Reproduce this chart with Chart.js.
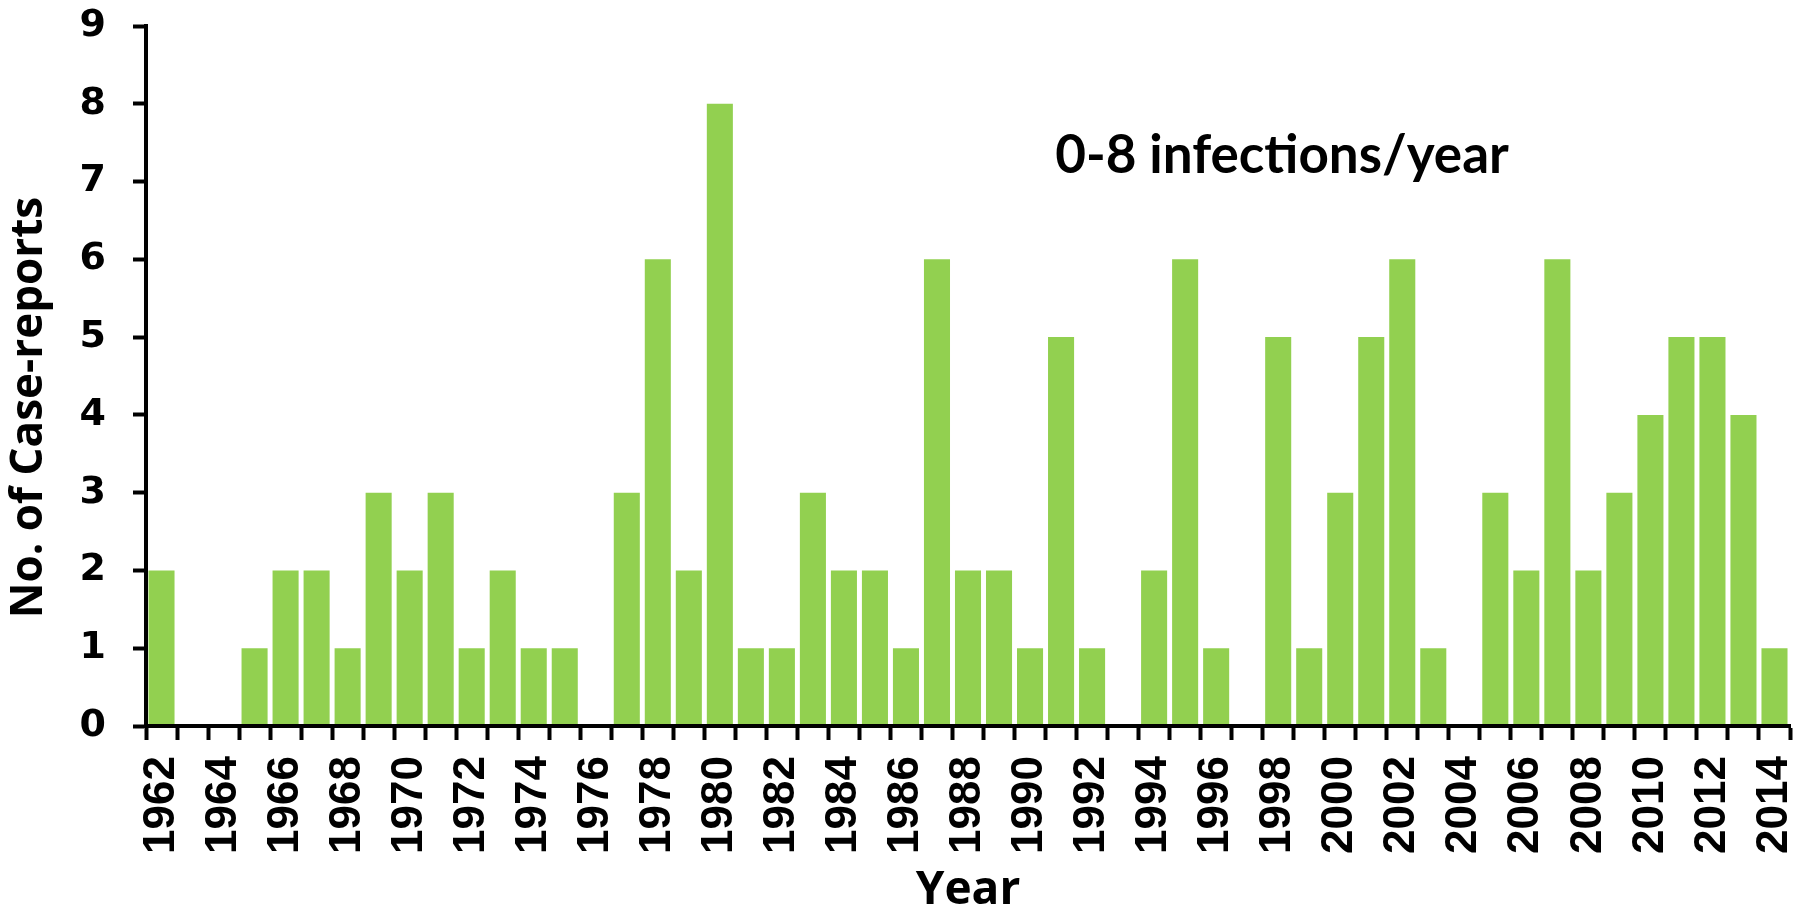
<!DOCTYPE html>
<html>
<head>
<meta charset="utf-8">
<script src="https://cdn.jsdelivr.net/npm/chart.js@4"></script>
<style>
  html, body { margin: 0; padding: 0; background: #ffffff; }
  #wrap { width: 1806px; height: 912px; position: relative; }
</style>
</head>
<body>
<div id="wrap"><canvas id="caseChart"></canvas></div>
<script>
// Years 1962-2014
const years = [
    '1962', '1963', '1964', '1965', '1966', '1967', '1968', '1969', '1970', '1971',
    '1972', '1973', '1974', '1975', '1976', '1977', '1978', '1979', '1980', '1981',
    '1982', '1983', '1984', '1985', '1986', '1987', '1988', '1989', '1990', '1991',
    '1992', '1993', '1994', '1995', '1996', '1997', '1998', '1999', '2000', '2001',
    '2002', '2003', '2004', '2005', '2006', '2007', '2008', '2009', '2010', '2011',
    '2012', '2013', '2014'
];

// No. of case-reports per year
const caseReports = [
    2, 0, 0, 1, 2, 2, 1, 3, 2, 3,
    1, 2, 1, 1, 0, 3, 6, 2, 8, 1,
    1, 3, 2, 2, 1, 6, 2, 2, 1, 5,
    1, 0, 2, 6, 1, 0, 5, 1, 3, 5,
    6, 1, 0, 3, 2, 6, 2, 3, 4, 5,
    5, 4, 1
];

const yTicks = [0, 1, 2, 3, 4, 5, 6, 7, 8, 9];
const yTitle = 'No. of Case-reports';
const annotationText = '0-8 infections/year';

const X_TICK_FONT = "'Liberation Sans', Arial, sans-serif";
const Y_TICK_FONT = "'DejaVu Sans', sans-serif";
const TITLE_FONT = "'Open Sans', sans-serif";
const NOTE_FONT = "Lato, sans-serif";

// the note and the y-axis title (title sits a bit below the plot's middle)
const textPlugin = {
    id: 'texts',
    afterDraw(chart) {
        const { ctx, chartArea } = chart;
        const w = chartArea.right - chartArea.left;
        const h = chartArea.bottom - chartArea.top;
        ctx.save();
        ctx.fillStyle = '#000';
        ctx.font = `bold 53px ${NOTE_FONT}`;
        ctx.textAlign = 'center';
        ctx.textBaseline = 'alphabetic';
        ctx.fillText(annotationText, chartArea.left + w * 0.691, chartArea.top + h * 0.21);

        ctx.translate(29, chartArea.top + h * 0.545);
        ctx.rotate(-Math.PI / 2);
        ctx.font = `bold 44px ${TITLE_FONT}`;
        ctx.textBaseline = 'middle';
        ctx.fillText(yTitle, 0, 0);
        ctx.restore();
    }
};

// axis lines sit on top of the bars
const axisOnTop = {
    id: 'axisOnTop',
    afterDatasetsDraw(chart) {
        chart.scales.x.drawBorder();
        chart.scales.y.drawBorder();
    }
};

const ctx = document.getElementById('caseChart').getContext('2d');

new Chart(ctx, {
    type: 'bar',
    data: {
        labels: years,
        datasets: [{
            data: caseReports,
            backgroundColor: '#92D050',
            borderWidth: 0,
            categoryPercentage: 1.0,
            barPercentage: 0.84
        }]
    },
    options: {
        responsive: true,
        maintainAspectRatio: false,
        animation: false,
        layout: { padding: { top: 26, right: 16, left: 0, bottom: 0 } },
        plugins: {
            legend: { display: false },
            tooltip: { enabled: false }
        },
        scales: {
            x: {
                offset: true,
                grid: {
                    offset: true,
                    drawOnChartArea: false,
                    drawTicks: true,
                    tickLength: 14,
                    tickWidth: 4,
                    tickColor: '#000'
                },
                border: { display: true, color: '#000', width: 4 },
                ticks: {
                    autoSkip: false,
                    maxRotation: 90,
                    minRotation: 90,
                    padding: 16,
                    color: '#000',
                    font: { family: X_TICK_FONT, size: 44, weight: 'bold' },
                    callback: function (value, index) {
                        return index % 2 === 0 ? years[index] : '';
                    }
                },
                title: {
                    display: true,
                    text: 'Year',
                    color: '#000',
                    padding: { top: 0, bottom: 0 },
                    font: { family: TITLE_FONT, size: 46, weight: 'bold', lineHeight: 0.9 }
                },
                afterFit(scale) {
                    scale.height = 186;
                    scale.paddingLeft = 0;
                    scale.paddingRight = 0;
                }
            },
            y: {
                min: 0,
                max: 9,
                grid: {
                    drawOnChartArea: false,
                    drawTicks: true,
                    tickLength: 13,
                    tickWidth: 4,
                    tickColor: '#000'
                },
                border: { display: true, color: '#000', width: 4 },
                afterBuildTicks(scale) {
                    scale.ticks = yTicks.map(v => ({ value: v }));
                },
                ticks: {
                    padding: 27,
                    color: '#000',
                    font: { family: Y_TICK_FONT, size: 38, weight: 'bold' }
                },
                afterFit(scale) {
                    scale.width = 146;
                    scale.paddingTop = 0;
                    scale.paddingBottom = 0;
                }
            }
        }
    },
    plugins: [textPlugin, axisOnTop]
});
</script>
</body>
</html>
